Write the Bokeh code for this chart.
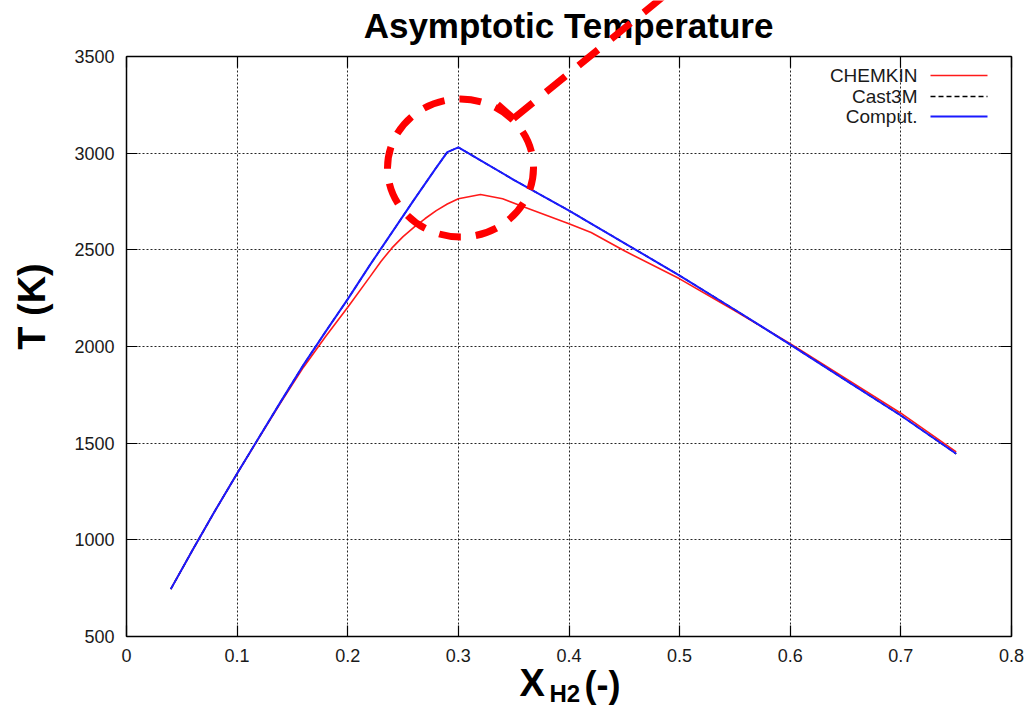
import math

from bokeh.plotting import figure
from bokeh.models import Range1d, LinearAxis, FixedTicker, Label, Arrow, Grid
from bokeh.embed import file_html
from bokeh.resources import INLINE

# Asymptotic temperature versus hydrogen molar fraction
x_chemkin = [0.04, 0.06, 0.08, 0.10, 0.12, 0.14, 0.16, 0.18, 0.20, 0.22, 0.23, 0.24,
             0.25, 0.26, 0.27, 0.28, 0.29, 0.30, 0.32, 0.34, 0.36, 0.38, 0.40, 0.42,
             0.45, 0.50, 0.55, 0.60, 0.65, 0.70, 0.75]
t_chemkin = [745, 950, 1150, 1343, 1530, 1715, 1893, 2052, 2203, 2360, 2440, 2510,
             2568, 2617, 2662, 2703, 2737, 2764, 2786, 2764, 2720, 2678, 2635, 2590,
             2495, 2350, 2185, 2015, 1835, 1655, 1455]

x_cast3m = [0.04, 0.06, 0.08, 0.10, 0.12, 0.14, 0.16, 0.18, 0.20, 0.22, 0.24, 0.26,
            0.28, 0.29, 0.30, 0.35, 0.40, 0.45, 0.50, 0.55, 0.60, 0.65, 0.70, 0.75]
t_cast3m = [745, 950, 1150, 1343, 1532, 1720, 1905, 2077, 2245, 2421, 2590, 2760,
            2925, 3005, 3030, 2862, 2703, 2535, 2367, 2190, 2010, 1826, 1643, 1445]

x_comput = [0.04, 0.06, 0.08, 0.10, 0.12, 0.14, 0.16, 0.18, 0.20, 0.22, 0.24, 0.26,
            0.28, 0.29, 0.30, 0.35, 0.40, 0.45, 0.50, 0.55, 0.60, 0.65, 0.70, 0.75]
t_comput = [745, 950, 1150, 1343, 1532, 1720, 1905, 2077, 2245, 2421, 2590, 2760,
            2925, 3005, 3030, 2862, 2703, 2535, 2367, 2190, 2010, 1826, 1643, 1445]

series_names = ["CHEMKIN", "Cast3M", "Comput."]

x_ticks = [0.0, 0.1, 0.2, 0.3, 0.4, 0.5, 0.6, 0.7, 0.8]
x_tick_labels = ["0", "0.1", "0.2", "0.3", "0.4", "0.5", "0.6", "0.7", "0.8"]
y_ticks = [500, 1000, 1500, 2000, 2500, 3000, 3500]

# ---- page geometry -------------------------------------------------------
W, H = 1033, 706
LEFT, RIGHT, TOP, BOTTOM = 126, 1011, 56, 636          # plot box in pixels
X_MIN, X_MAX = x_ticks[0], x_ticks[-1]
T_MIN, T_MAX = y_ticks[0], y_ticks[-1]
PX_X = (RIGHT - LEFT) / (X_MAX - X_MIN)
PX_T = (BOTTOM - TOP) / (T_MAX - T_MIN)


def px_x(px):
    """canvas pixel column -> data x"""
    return X_MIN + (px - LEFT) / PX_X


def px_y(py):
    """canvas pixel row -> data T"""
    return T_MAX - (py - TOP) / PX_T


FONT = "Liberation Sans"
TEXT = "#1a1a1a"
RED = "#ff1a1a"
BLUE = "#1a1aff"

# the frame fills the page; the plot box is drawn by four axes pinned to the
# data bounds, so titles and the highlight arrow can sit outside that box
p = figure(width=W, height=H, output_backend="svg", toolbar_location=None,
           x_range=Range1d(px_x(0), px_x(W)), y_range=Range1d(px_y(H), px_y(0)),
           min_border=0, min_border_left=0, min_border_right=0,
           min_border_top=0, min_border_bottom=0,
           background_fill_color="white", border_fill_color="white",
           x_axis_location=None, y_axis_location=None)
p.outline_line_color = None
p.grid.visible = False

x_ticker = FixedTicker(ticks=x_ticks, minor_ticks=[])
y_ticker = FixedTicker(ticks=y_ticks, minor_ticks=[])

axis_style = dict(major_tick_in=11, major_tick_out=0, minor_tick_in=0, minor_tick_out=0,
                  axis_line_color="black", axis_line_width=1.5,
                  major_tick_line_color="black", major_tick_line_width=1.2,
                  major_label_text_font=FONT, major_label_text_font_size="18px",
                  major_label_text_color=TEXT)
mirror_style = dict(axis_style, major_label_text_color=None,
                    major_label_text_font_size="1px", major_label_standoff=0)

bottom_ax = LinearAxis(ticker=x_ticker, fixed_location=T_MIN, bounds=(X_MIN, X_MAX),
                       major_label_standoff=12,
                       major_label_overrides={t: s for t, s in zip(x_ticks, x_tick_labels)},
                       **axis_style)
left_ax = LinearAxis(ticker=y_ticker, fixed_location=X_MIN, bounds=(T_MIN, T_MAX),
                     major_label_standoff=12, **axis_style)
top_ax = LinearAxis(ticker=x_ticker, fixed_location=T_MAX, bounds=(X_MIN, X_MAX),
                    **mirror_style)
right_ax = LinearAxis(ticker=y_ticker, fixed_location=X_MAX, bounds=(T_MIN, T_MAX),
                      **mirror_style)
p.add_layout(bottom_ax, "below")
p.add_layout(left_ax, "left")
p.add_layout(top_ax, "above")
p.add_layout(right_ax, "right")

# dotted grid limited to the plot box
grid_style = dict(grid_line_color="black", grid_line_dash="2 2", grid_line_width=1,
                  grid_line_alpha=0.85)
if "cross_bounds" in Grid.properties():
    p.add_layout(Grid(dimension=0, ticker=x_ticker, bounds=(X_MIN, X_MAX),
                      cross_bounds=(T_MIN, T_MAX), **grid_style))
    p.add_layout(Grid(dimension=1, ticker=y_ticker, bounds=(T_MIN, T_MAX),
                      cross_bounds=(X_MIN, X_MAX), **grid_style))
else:
    p.segment(x0=x_ticks, y0=[T_MIN] * len(x_ticks), x1=x_ticks, y1=[T_MAX] * len(x_ticks),
              line_color="black", line_dash="2 2", line_width=1, line_alpha=0.85)
    p.segment(x0=[X_MIN] * len(y_ticks), y0=y_ticks, x1=[X_MAX] * len(y_ticks), y1=y_ticks,
              line_color="black", line_dash="2 2", line_width=1, line_alpha=0.85)

# data curves
p.line(x_chemkin, t_chemkin, line_color=RED, line_width=1.6)
p.line(x_cast3m, t_cast3m, line_color="black", line_width=1.5, line_dash="5 3")
p.line(x_comput, t_comput, line_color=BLUE, line_width=2)

# title
p.add_layout(Label(x=px_x(568), y=px_y(25), text="Asymptotic Temperature",
                   text_align="center", text_baseline="middle", text_font=FONT,
                   text_font_size="35px", text_font_style="bold", text_color="black"))

# axis titles
p.add_layout(Label(x=px_x(31), y=px_y(306), text="T (K)", angle=math.pi / 2,
                   text_align="center", text_baseline="middle",
                   text_font=FONT, text_font_size="38px", text_font_style="bold",
                   text_color="black"))
xlab = dict(text_align="left", text_baseline="middle", text_font=FONT,
            text_font_style="bold", text_color="black")
p.add_layout(Label(x=px_x(519), y=px_y(682), text="X", text_font_size="38px", **xlab))
p.add_layout(Label(x=px_x(549), y=px_y(693), text="H2", text_font_size="24px", **xlab))
p.add_layout(Label(x=px_x(584), y=px_y(684), text="(-)", text_font_size="36px", **xlab))

# key (label text on the left, line sample on the right)
key_rows = [75, 96, 116]
key_styles = [dict(line_color=RED, line_width=1.6),
              dict(line_color="black", line_width=1.5, line_dash="5 3"),
              dict(line_color=BLUE, line_width=2)]
for name, row, st in zip(series_names, key_rows, key_styles):
    ky = px_y(row)
    p.add_layout(Label(x=px_x(917), y=ky, text=name, text_align="right",
                       text_baseline="middle", text_font=FONT,
                       text_font_size="19px", text_color=TEXT))
    p.segment(x0=[px_x(930)], y0=[ky], x1=[px_x(987)], y1=[ky], **st)

# highlight around the peak
p.ellipse(x=[px_x(460)], y=[px_y(167.5)], width=146 / PX_X, height=138 / PX_T,
          fill_color=None, line_color="red", line_width=7, line_dash="22 15")
tip = (px_x(513), px_y(118))
p.add_layout(Arrow(end=None, x_start=tip[0], y_start=tip[1],
                   x_end=px_x(680), y_end=px_y(-18),
                   line_color="red", line_width=7, line_dash="25 17"))
p.add_layout(Arrow(end=None, x_start=tip[0], y_start=tip[1],
                   x_end=px_x(497), y_end=px_y(104),
                   line_color="red", line_width=7))

open("out.html", "w").write(file_html(p, INLINE))
